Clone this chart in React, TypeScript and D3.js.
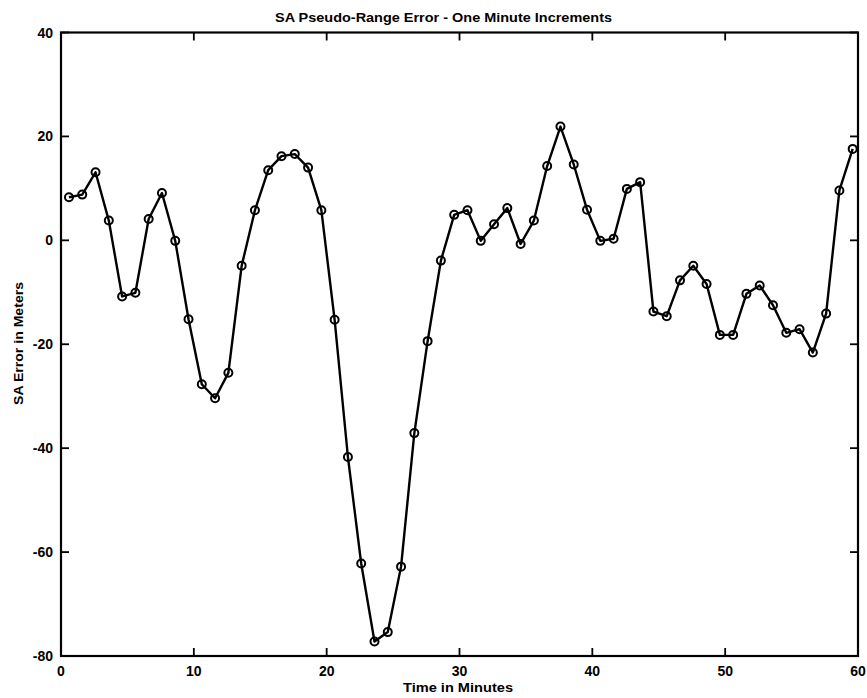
import React from "react";
import * as d3 from "d3";

// SA pseudo-range error, one sample per minute (meters)
const errorMeters: number[] = [
  8.3, 8.8, 13.1, 3.8, -10.8, -10.1, 4.1, 9.1, -0.1, -15.2,
  -27.7, -30.4, -25.5, -4.9, 5.8, 13.5, 16.2, 16.6, 14.0, 5.8,
  -15.3, -41.7, -62.2, -77.2, -75.4, -62.8, -37.1, -19.4, -3.9, 4.9,
  5.8, -0.1, 3.1, 6.2, -0.7, 3.8, 14.3, 21.9, 14.6, 5.9,
  -0.1, 0.3, 9.9, 11.2, -13.7, -14.6, -7.7, -4.9, -8.4, -18.2,
  -18.2, -10.3, -8.7, -12.5, -17.8, -17.1, -21.6, -14.1, 9.6, 17.6,
];
// first sample time (minutes); samples are one minute apart
const firstSampleMinute = 0.6;

const xTicks: number[] = [0, 10, 20, 30, 40, 50, 60];
const yTicks: number[] = [-80, -60, -40, -20, 0, 20, 40];

const titleText = "SA Pseudo-Range Error - One Minute Increments";
const xLabelText = "Time in Minutes";
const yLabelText = "SA Error in Meters";

const W = 867;
const H = 698;
const plot = { left: 61, right: 858, top: 32.5, bottom: 656 };
const FONT = "'Liberation Sans', Arial, Helvetica, sans-serif";
const TICK = 8;

export default function App() {
  const x = d3.scaleLinear().domain([0, 60]).range([plot.left, plot.right]);
  const y = d3.scaleLinear().domain([-80, 40]).range([plot.bottom, plot.top]);

  const pts: [number, number][] = errorMeters.map((v, i) => [
    x(firstSampleMinute + i),
    y(v),
  ]);
  const line = d3.line<[number, number]>()(pts) || "";

  return (
    <svg
      width={W}
      height={H}
      viewBox={`0 0 ${W} ${H}`}
      style={{ position: "absolute", left: 0, top: 0, background: "#fff" }}
    >
      <rect x={0} y={0} width={W} height={H} fill="#fff" />

      {/* frame */}
      <rect
        x={plot.left}
        y={plot.top}
        width={plot.right - plot.left}
        height={plot.bottom - plot.top}
        fill="none"
        stroke="#000"
        strokeWidth={2.2}
      />

      {/* inward ticks, x */}
      {xTicks.map((t) => (
        <g key={`xt${t}`} stroke="#000" strokeWidth={1.8}>
          <line x1={x(t)} x2={x(t)} y1={plot.bottom} y2={plot.bottom - TICK} />
          <line x1={x(t)} x2={x(t)} y1={plot.top} y2={plot.top + TICK} />
        </g>
      ))}
      {/* inward ticks, y */}
      {yTicks.map((t) => (
        <g key={`yt${t}`} stroke="#000" strokeWidth={1.8}>
          <line x1={plot.left} x2={plot.left + TICK} y1={y(t)} y2={y(t)} />
          <line x1={plot.right} x2={plot.right - TICK} y1={y(t)} y2={y(t)} />
        </g>
      ))}

      {/* tick labels */}
      {xTicks.map((t) => (
        <text
          key={`xl${t}`}
          x={x(t)}
          y={675.5}
          textAnchor="middle"
          fontFamily={FONT}
          fontWeight="bold"
          fontSize={14}
          fill="#000"
        >
          {t}
        </text>
      ))}
      {yTicks.map((t) => (
        <text
          key={`yl${t}`}
          x={53}
          y={y(t) + 5}
          textAnchor="end"
          fontFamily={FONT}
          fontWeight="bold"
          fontSize={14}
          fill="#000"
        >
          {t}
        </text>
      ))}

      {/* series */}
      <path d={line} fill="none" stroke="#000" strokeWidth={2.4} strokeLinejoin="round" />
      {pts.map(([px, py], i) => (
        <circle
          key={`m${i}`}
          cx={px}
          cy={py}
          r={4}
          fill="none"
          stroke="#000"
          strokeWidth={2}
        />
      ))}

      {/* title and axis labels */}
      <text
        x={443.5}
        y={22}
        textAnchor="middle"
        fontFamily={FONT}
        fontWeight="bold"
        fontSize={13.5}
        textLength={337}
        lengthAdjust="spacingAndGlyphs"
        fill="#000"
      >
        {titleText}
      </text>
      <text
        x={458}
        y={692}
        textAnchor="middle"
        fontFamily={FONT}
        fontWeight="bold"
        fontSize={13.5}
        textLength={110}
        lengthAdjust="spacingAndGlyphs"
        fill="#000"
      >
        {xLabelText}
      </text>
      <text
        transform={`translate(22.5, 343.5) rotate(-90)`}
        textAnchor="middle"
        fontFamily={FONT}
        fontWeight="bold"
        fontSize={13.5}
        textLength={123}
        lengthAdjust="spacingAndGlyphs"
        fill="#000"
      >
        {yLabelText}
      </text>
    </svg>
  );
}
